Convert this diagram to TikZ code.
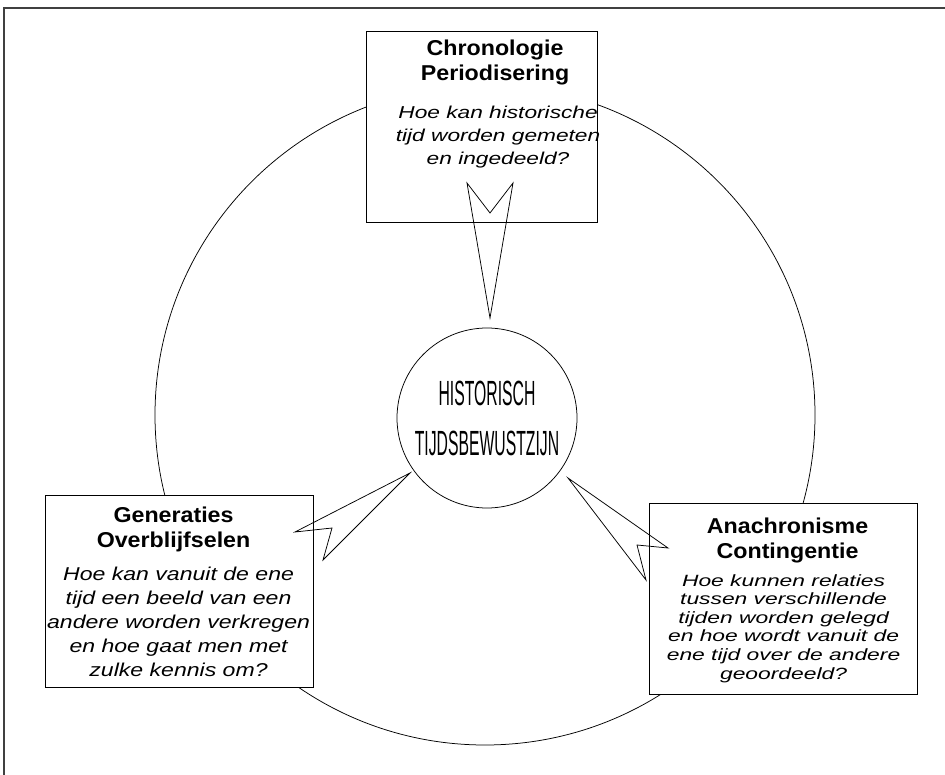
\documentclass[tikz,border=0pt]{standalone}
\usepackage{fontspec}
\setmainfont{Liberation Sans}
\newfontfamily\titlefont{Liberation Sans}[FakeStretch=1.08]
\newfontfamily\chronofont{Liberation Sans}[FakeStretch=1.32]
\newfontfamily\genfont{Liberation Sans}[FakeStretch=1.24]
\newfontfamily\anafont{Liberation Sans}[FakeStretch=1.4]
\newfontfamily\narrowfont{Liberation Sans}[FakeStretch=0.45]
\usetikzlibrary{positioning}

\begin{document}
\begin{tikzpicture}[x=1pt, y=-1pt,
  box/.style={draw, fill=white, line width=1.1pt, anchor=north west, inner sep=0pt},
  title/.style={align=center, inner sep=0pt, font=\titlefont\bfseries\fontsize{21.5}{25}\selectfont},
  question/.style={align=center, inner sep=0pt},
  wedge/.style={line width=0.75pt, line join=miter}]

  \useasboundingbox (0,0) rectangle (945,775);

  % Frame
  \draw[line width=1.2pt, black!75] (4,775) -- (4,8) -- (945,8);

  % Big circle
  \node[circle, draw, line width=0.75pt, minimum size=660, inner sep=0pt] (ring) at (485,415) {};

  % Boxes
  \node[box, minimum width=231, minimum height=191] (chrono) at (366,31) {};
  \node[box, minimum width=268, minimum height=192] (gen) at (45,495) {};
  \node[box, minimum width=268, minimum height=191] (ana) at (649,503) {};

  % Titles
  \node[title, below=8.6pt of chrono.north, xshift=13pt] (chronoT) {Chronologie\\Periodisering};
  \node[title, below=11.6pt of gen.north, xshift=-6pt] (genT) {Generaties\\Overblijfselen};
  \node[title, below=14.6pt of ana.north, xshift=4pt] (anaT) {Anachronisme\\Contingentie};

  % Questions
  \node[question, below=21pt of chronoT, xshift=3pt,
    font=\chronofont\itshape\fontsize{17.2}{23}\selectfont] (chronoQ)
    {Hoe kan historische\\tijd worden gemeten\\en ingedeeld?};
  \node[question, below=15pt of genT, xshift=5pt,
    font=\genfont\itshape\fontsize{18.6}{24}\selectfont] (genQ)
    {Hoe kan vanuit de ene\\tijd een beeld van een\\andere worden verkregen\\en hoe gaat men met\\zulke kennis om?};
  \node[question, below=11pt of anaT, xshift=-4pt,
    font=\anafont\itshape\fontsize{16.3}{18.6}\selectfont] (anaQ)
    {Hoe kunnen relaties\\tussen verschillende\\tijden worden gelegd\\en hoe wordt vanuit de\\ene tijd over de andere\\geoordeeld?};

  % Callout wedges
  \coordinate (chronoA) at (467,183);
  \coordinate (chronoTip) at (490,318);
  \coordinate (chronoB) at (513,183);
  \coordinate (chronoN) at (490,213);
  \draw[wedge] (chronoN) -- (chronoA) -- (chronoTip) -- (chronoB) -- cycle;

  \coordinate (genA) at (295,532);
  \coordinate (genTip) at (410,473);
  \coordinate (genB) at (323,560);
  \coordinate (genN) at (332,528);
  \draw[wedge] (genN) -- (genA) -- (genTip) -- (genB) -- cycle;

  \coordinate (anaA) at (668,548);
  \coordinate (anaTip) at (568,478);
  \coordinate (anaB) at (646,580);
  \coordinate (anaN) at (637,545);
  \draw[wedge] (anaN) -- (anaA) -- (anaTip) -- (anaB) -- cycle;

  % Centre
  \node[circle, draw, fill=white, line width=0.75pt, minimum size=180, inner sep=0pt,
    align=center, font=\narrowfont\fontsize{35}{50}\selectfont] (centre) at (487,418)
    {HISTORISCH\\TIJDSBEWUSTZIJN};

\end{tikzpicture}
\end{document}
